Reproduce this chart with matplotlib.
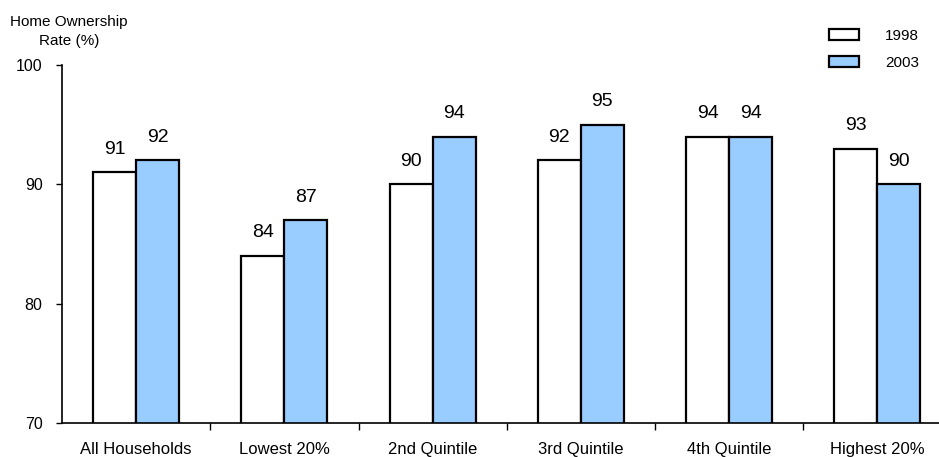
import numpy as np
import matplotlib
matplotlib.use("Agg")
import matplotlib.pyplot as plt

# data
categories = ['All Households', 'Lowest 20%', '2nd Quintile', '3rd Quintile', '4th Quintile', 'Highest 20%']
rate_1998 = [91, 84, 90, 92, 94, 93]
rate_2003 = [92, 87, 94, 95, 94, 90]
series_labels = ['1998', '2003']

plt.rcParams['font.family'] = ['Liberation Sans', 'DejaVu Sans']

fig = plt.figure(figsize=(9.39, 4.57), dpi=100)
ax = fig.add_axes([62/939, 34/457, (939-62)/939, (423-65)/457])

x = np.arange(len(categories))
w = 0.29
b1 = ax.bar(x - w/2, rate_1998, w, color='white', edgecolor='black', linewidth=1.6,
            label=series_labels[0], zorder=2)
b2 = ax.bar(x + w/2, rate_2003, w, color='#99ccff', edgecolor='black', linewidth=1.6,
            label=series_labels[1], zorder=2)

for bars in (b1, b2):
    ax.bar_label(bars, padding=10.5, fontsize=14)

ax.set_ylim(70, 100)
ax.set_xlim(-0.5, -0.5 + 877/148.25)
ax.set_yticks([70, 80, 90, 100])
ax.tick_params(axis='y', direction='out', length=4, width=1, pad=10, labelsize=11.5)

ax.set_xticks(x)
ax.set_xticklabels(categories, fontsize=12)
ax.tick_params(axis='x', which='major', length=0, pad=14)
ax.set_xticks(x[:-1] + 0.5, minor=True)
ax.tick_params(axis='x', which='minor', direction='out', length=5, width=1)

for s in ['top', 'right']:
    ax.spines[s].set_visible(False)
for s in ['left', 'bottom']:
    ax.spines[s].set_linewidth(1.2)

fig.text(69/939, 1 - 15/457, 'Home Ownership\nRate (%)', ha='center', va='top',
         fontsize=11, linespacing=1.45)

ax.legend(loc='upper left', bbox_to_anchor=(829/939, 1 - 29/457),
          bbox_transform=fig.transFigure, frameon=False, fontsize=11,
          handlelength=1.95, handleheight=0.72, handletextpad=1.7,
          labelspacing=0.85, borderpad=0, borderaxespad=0)

fig.savefig('out.png', dpi=100)
